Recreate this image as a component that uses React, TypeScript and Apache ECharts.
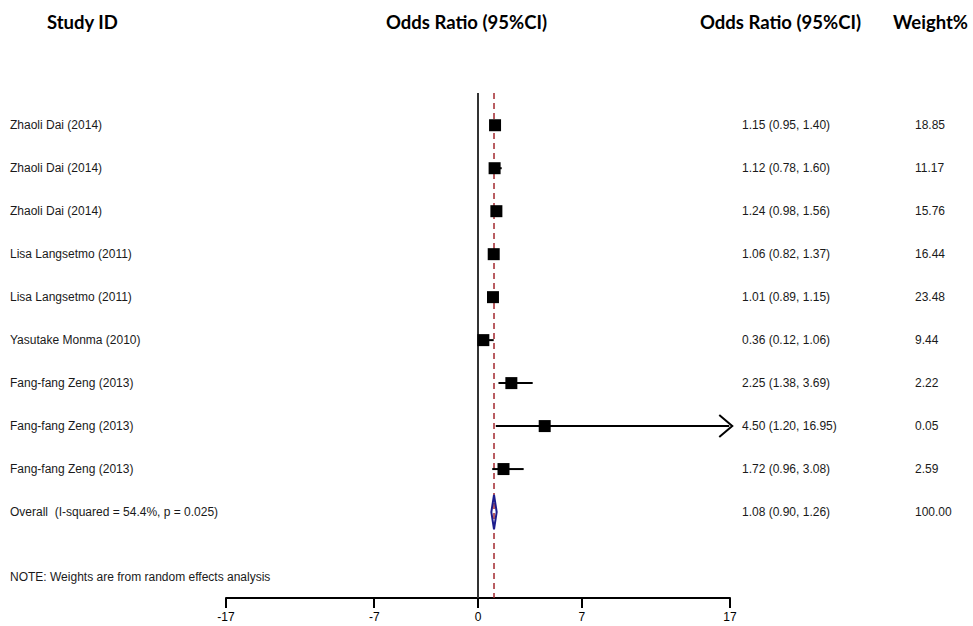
import React, { useEffect, useRef } from "react";
import * as echarts from "echarts";

const studies = [
  "Zhaoli Dai (2014)",
  "Zhaoli Dai (2014)",
  "Zhaoli Dai (2014)",
  "Lisa Langsetmo (2011)",
  "Lisa Langsetmo (2011)",
  "Yasutake Monma (2010)",
  "Fang-fang Zeng (2013)",
  "Fang-fang Zeng (2013)",
  "Fang-fang Zeng (2013)",
];
const oddsRatios = [1.15, 1.12, 1.24, 1.06, 1.01, 0.36, 2.25, 4.5, 1.72];
const ciLow = [0.95, 0.78, 0.98, 0.82, 0.89, 0.12, 1.38, 1.2, 0.96];
const ciHigh = [1.4, 1.6, 1.56, 1.37, 1.15, 1.06, 3.69, 16.95, 3.08];
const weights = [18.85, 11.17, 15.76, 16.44, 23.48, 9.44, 2.22, 0.05, 2.59];

const overallLabel = "Overall\u00a0 (I-squared = 54.4%, p = 0.025)";
const overallOR = 1.08;
const overallLow = 0.9;
const overallHigh = 1.26;
const overallWeight = 100;

const noteText = "NOTE: Weights are from random effects analysis";
const headers = ["Study ID", "Odds Ratio (95%CI)", "Odds Ratio (95%CI)", "Weight%"];
const xTicks = [-17, -7, 0, 7, 17];
const xMin = -17;
const xMax = 17;

const TEXT_FONT = '"Liberation Sans", Arial, sans-serif';

export default function App() {
  const ref = useRef<HTMLDivElement>(null);
  useEffect(() => {
    document.body.style.margin = "0";
    const chart = echarts.init(ref.current!, null, { renderer: "svg" });

    const studyData = studies.map((_, i) => [i, oddsRatios[i], ciLow[i], ciHigh[i]]);
    const nRows = studies.length;
    const labels = [...studies, overallLabel];
    const ors = [...oddsRatios, overallOR];
    const los = [...ciLow, overallLow];
    const his = [...ciHigh, overallHigh];
    const ws = [...weights, overallWeight];
    const textData = labels.map((_, i) => [i]);

    chart.setOption({
      animation: false,
      backgroundColor: "#fff",
      grid: { left: 226, right: 243, top: 93, bottom: 28 },
      xAxis: {
        type: "value",
        min: xMin,
        max: xMax,
        position: "bottom",
        splitLine: { show: false },
        axisLine: { show: true, onZero: false, lineStyle: { color: "#000", width: 2 } },
        axisTick: {
          show: true,
          customValues: xTicks,
          length: 10,
          lineStyle: { color: "#000", width: 2 },
        },
        axisLabel: {
          customValues: xTicks,
          color: "#000",
          fontSize: 12,
          fontFamily: TEXT_FONT,
          margin: 13,
        },
      },
      yAxis: { type: "value", inverse: true, min: -0.75, max: 11, show: false },
      graphic: [
        ...[
          { t: headers[0], x: 47 },
          { t: headers[1], x: 386 },
          { t: headers[2], x: 700 },
          { t: headers[3], x: 893 },
        ].map((h) => ({
          type: "text",
          style: {
            text: h.t,
            x: h.x,
            y: 22,
            verticalAlign: "middle",
            fill: "#000",
            fontFamily: "Lato, sans-serif",
            fontWeight: "bold",
            fontSize: 18.5,
          },
        })),
        {
          type: "text",
          style: {
            text: noteText,
            x: 10,
            y: 577,
            verticalAlign: "middle",
            fill: "#1a1a1a",
            fontFamily: TEXT_FONT,
            fontSize: 12,
          },
        },
      ],
      series: [
        {
          type: "line",
          data: [[0, -0.75], [0, 11]],
          symbol: "none",
          lineStyle: { color: "#333", width: 2 },
          z: 1,
        },
        {
          type: "line",
          data: [[overallOR, -0.75], [overallOR, 11]],
          symbol: "none",
          lineStyle: { color: "#a3282e", width: 1.5, type: [6, 4] },
          z: 2,
        },
        {
          type: "custom",
          z: 3,
          data: studyData,
          renderItem: (params: any, api: any) => {
            const row = api.value(0);
            const est = api.value(1);
            const lo = api.value(2);
            const hi = api.value(3);
            const pE = api.coord([est, row]);
            const pL = api.coord([lo, row]);
            const pH = api.coord([hi, row]);
            const children: any[] = [
              {
                type: "line",
                shape: { x1: pL[0], y1: pL[1], x2: pH[0], y2: pH[1] },
                style: { stroke: "#000", lineWidth: 2 },
              },
              {
                type: "rect",
                shape: { x: pE[0] - 6, y: pE[1] - 6, width: 12, height: 12 },
                style: { fill: "#000" },
              },
            ];
            if (hi > xMax - 1) {
              const tip = pH[0] + 3;
              children.push({
                type: "polyline",
                shape: { points: [[tip - 13, pH[1] - 11], [tip, pH[1]], [tip - 13, pH[1] + 11]] },
                style: { stroke: "#000", lineWidth: 2, fill: "none" },
              });
            }
            return { type: "group", children };
          },
        },
        {
          type: "custom",
          z: 4,
          data: [[nRows, overallOR, overallLow, overallHigh]],
          renderItem: (params: any, api: any) => {
            const row = api.value(0);
            const est = api.value(1);
            const lo = api.value(2);
            const hi = api.value(3);
            const pts = [
              api.coord([lo, row]),
              api.coord([est, row - 0.4]),
              api.coord([hi, row]),
              api.coord([est, row + 0.4]),
            ];
            return {
              type: "polygon",
              shape: { points: pts },
              style: { stroke: "#1c1c8c", lineWidth: 2, fill: "rgba(255,255,255,0)" },
            };
          },
        },
        {
          type: "custom",
          z: 5,
          data: textData,
          renderItem: (params: any, api: any) => {
            const i = api.value(0);
            const y = api.coord([0, i])[1];
            const base = {
              fill: "#1a1a1a",
              fontFamily: TEXT_FONT,
              fontSize: 12,
              verticalAlign: "middle",
            };
            return {
              type: "group",
              children: [
                { type: "text", style: { ...base, text: labels[i], x: 10, y } },
                {
                  type: "text",
                  style: {
                    ...base,
                    text: `${ors[i].toFixed(2)} (${los[i].toFixed(2)}, ${his[i].toFixed(2)})`,
                    x: 742,
                    y,
                  },
                },
                { type: "text", style: { ...base, text: ws[i].toFixed(2), x: 915, y } },
              ],
            };
          },
        },
      ],
    });
    return () => chart.dispose();
  }, []);
  return <div ref={ref} style={{ width: 973, height: 626 }} />;
}
